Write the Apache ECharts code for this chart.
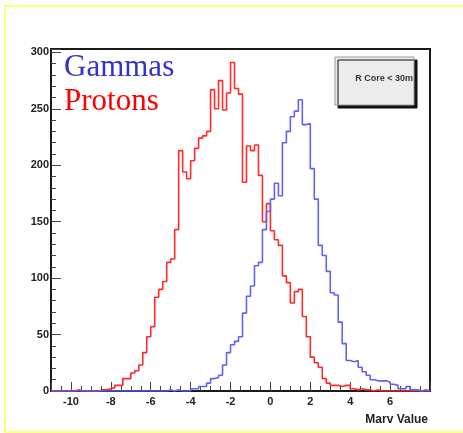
<!DOCTYPE html>
<html>
<head>
<meta charset="utf-8">
<script src="https://cdn.jsdelivr.net/npm/echarts@6/dist/echarts.min.js"></script>
<style>
  html, body { margin: 0; padding: 0; background: #ffffff; }
  #chart { width: 463px; height: 433px; }
</style>
</head>
<body>
<div id="chart"></div>
<script>
// Histogram binning: 95 bins of width 0.2 from -11 to 8
const binLow = -11;
const binWidth = 0.2;

// Counts per bin (left edge = binLow + i * binWidth)
const protonCounts = [
  0, 0, 0, 0, 0, 0, 1, 0, 0, 0, 0, 0,
  1, 1, 2, 3, 5, 5, 11, 11, 16, 18, 23, 34, 48, 57, 83, 90, 97, 114,
  117, 143, 213, 194, 188, 204, 215, 224, 226, 230,
  267, 250, 275, 249, 264, 291, 268, 263, 185, 217,
  213, 218, 191, 150, 166, 142, 134, 129, 102, 96,
  78, 88, 90, 66, 48, 30, 25, 21, 11, 7,
  5, 5, 4, 5, 5, 2, 1, 2, 1, 1,
  0, 1, 0, 0, 0, 0, 0, 0, 0, 0, 0, 0, 0, 0, 0
];

const gammaCounts = [
  0, 0, 0, 0, 0, 0, 0, 0, 0, 0, 0, 0, 0, 0, 0, 0, 0, 0, 0, 0,
  0, 0, 0, 0, 0, 0, 0, 0, 0, 1, 0, 1, 0, 0, 0,
  2, 2, 4, 4, 7, 11, 12, 14, 23, 34,
  41, 44, 48, 69, 84, 93, 111, 114, 143, 159,
  170, 184, 173, 220, 230, 243, 248, 258, 236, 237,
  197, 170, 129, 120, 106, 87, 85, 61, 42, 27,
  26, 27, 21, 17, 14, 10, 9, 9, 9, 8,
  6, 5, 2, 2, 4, 1, 1, 0, 1, 0
];

const seriesNames = ['Gammas', 'Protons'];
const yTickLabels = ['0', '50', '100', '150', '200', '250', '300'];
const xTickLabels = ['-10', '-8', '-6', '-4', '-2', '0', '2', '4', '6'];
const xTitle = 'Marv Value';
const statText = 'R Core < 30m';

// Turn bin counts into step points: [left edge, count] plus a closing point
function toSteps(counts) {
  const pts = counts.map((c, i) => [+(binLow + i * binWidth).toFixed(2), c]);
  pts.push([+(binLow + counts.length * binWidth).toFixed(2), counts[counts.length - 1]]);
  return pts;
}

const labelFont = { fontFamily: 'Liberation Sans', fontWeight: 'bold', fontSize: 11, color: '#222' };

const chart = echarts.init(document.getElementById('chart'), null, { renderer: 'canvas' });

chart.setOption({
  backgroundColor: '#ffffff',
  animation: false,
  grid: {
    left: 51, right: 33, top: 49, bottom: 42,
    containLabel: false,
    outerBoundsMode: 'none',
    show: true, borderColor: '#1a1a1a', borderWidth: 2, backgroundColor: 'transparent'
  },
  legend: {
    orient: 'vertical',
    left: 59, top: 51,
    padding: 0,
    itemGap: 0,
    itemWidth: 0, itemHeight: 0,
    icon: 'rect',
    selectedMode: false,
    textStyle: { fontFamily: 'Liberation Serif', fontSize: 31, lineHeight: 34, padding: [0, 0, 0, 0] },
    data: [
      { name: seriesNames[0], textStyle: { color: '#3333cc' } },
      { name: seriesNames[1], textStyle: { color: '#ff0000' } }
    ]
  },
  xAxis: {
    type: 'value',
    min: -11, max: 8,
    splitNumber: 10,
    axisLine: { show: true, onZero: false, lineStyle: { color: '#1a1a1a', width: 2 } },
    axisTick: { show: true, inside: true, length: 9, lineStyle: { color: '#444', width: 1 } },
    minorTick: { show: true, splitNumber: 4, length: 5, lineStyle: { color: '#444', width: 1 } },
    splitLine: { show: false },
    axisLabel: Object.assign({
      margin: 5,
      showMinLabel: false, showMaxLabel: false,
      formatter: v => xTickLabels.includes(String(v)) ? String(v) : ''
    }, labelFont),
    name: xTitle,
    nameLocation: 'end',
    nameGap: -2,
    nameTextStyle: {
      fontFamily: 'Liberation Sans', fontWeight: 'bold', fontSize: 12, color: '#222',
      align: 'right', verticalAlign: 'top', padding: [23, 0, 0, 0]
    }
  },
  yAxis: {
    type: 'value',
    min: 0, max: 303,
    interval: 50,
    axisLine: { show: true, onZero: false, lineStyle: { color: '#1a1a1a', width: 2 } },
    axisTick: { show: true, inside: true, length: 10, lineStyle: { color: '#444', width: 1 } },
    minorTick: { show: true, splitNumber: 5, length: 5, lineStyle: { color: '#444', width: 1 } },
    splitLine: { show: false },
    axisLabel: Object.assign({
      margin: 2,
      formatter: v => yTickLabels.includes(String(v)) ? String(v) : ''
    }, labelFont)
  },
  series: [
    {
      name: seriesNames[1],
      type: 'line',
      step: 'end',
      showSymbol: false,
      z: 3,
      color: '#ff0000',
      lineStyle: { color: '#ff2a2a', width: 1.6 },
      data: toSteps(protonCounts)
    },
    {
      name: seriesNames[0],
      type: 'line',
      step: 'end',
      showSymbol: false,
      z: 4,
      color: '#3333cc',
      lineStyle: { color: '#6262f0', width: 1.6 },
      data: toSteps(gammaCounts)
    }
  ],
  graphic: [
    {
      type: 'rect', silent: true, z: -10,
      shape: { x: 5, y: 6, width: 480, height: 426 },
      style: { fill: 'transparent', stroke: '#ffff80', lineWidth: 2 }
    },
    {
      type: 'group', z: 100,
      children: [
        {
          type: 'rect',
          shape: { x: 335, y: 57, width: 79, height: 48 },
          style: {
            fill: '#ececec', stroke: '#9a9a9a', lineWidth: 1,
            shadowColor: '#111', shadowOffsetX: 3, shadowOffsetY: 3, shadowBlur: 0
          }
        },
        {
          type: 'text',
          x: 413, y: 79,
          style: {
            text: statText, align: 'right', verticalAlign: 'middle',
            font: 'bold 9px "Liberation Sans"', fill: '#333'
          }
        }
      ]
    }
  ]
});
</script>
</body>
</html>
